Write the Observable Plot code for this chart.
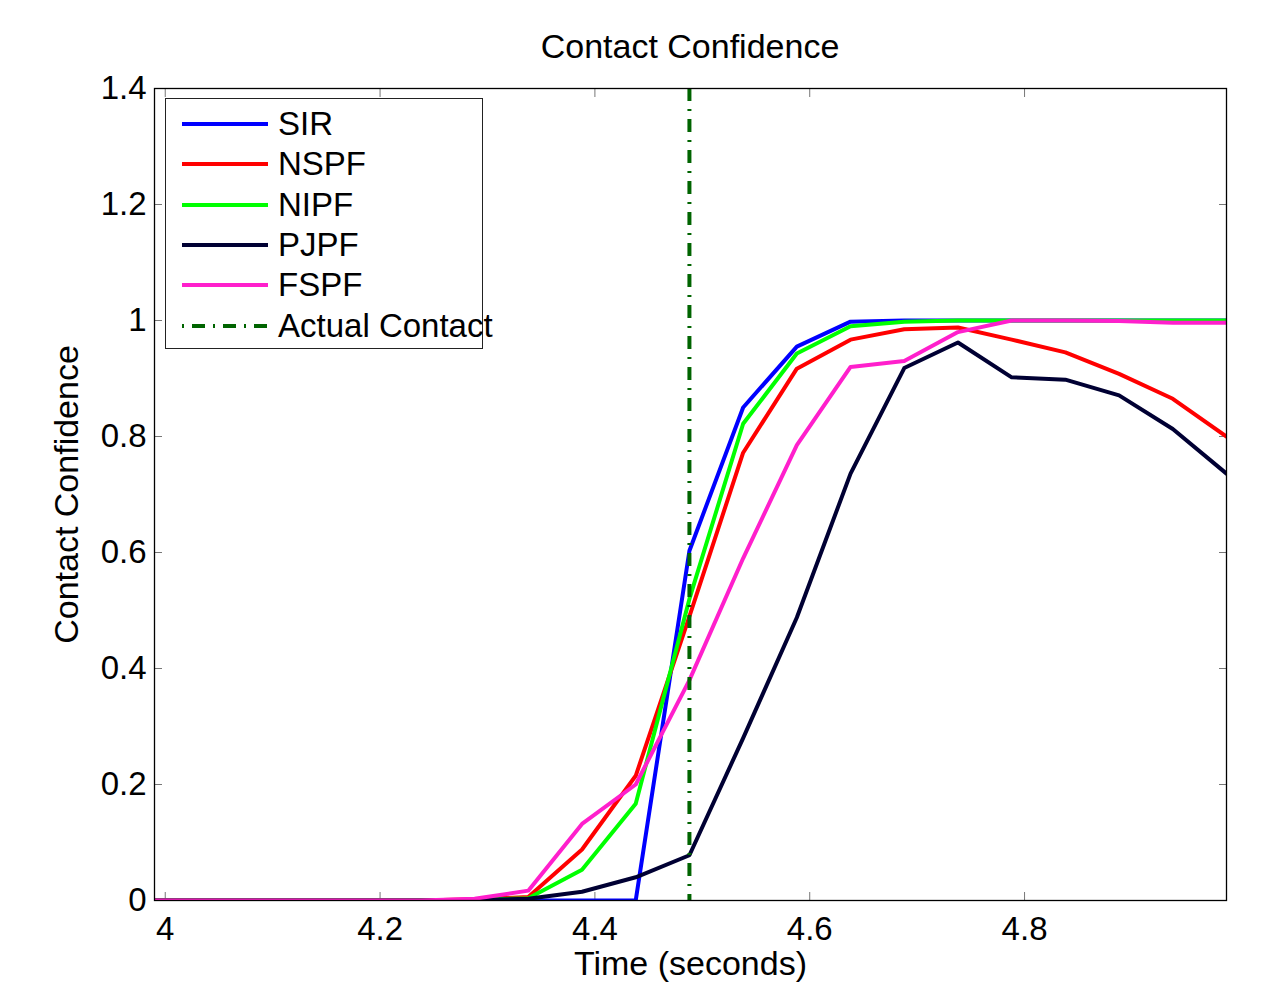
<!DOCTYPE html>
<html>
<head>
<meta charset="utf-8">
<script src="https://cdn.jsdelivr.net/npm/d3@7"></script>
<script src="https://cdn.jsdelivr.net/npm/@observablehq/plot@0.6"></script>
<style>
  html, body { margin: 0; padding: 0; background: #fff; }
  #wrap { position: relative; width: 1284px; height: 983px; font-family: "Liberation Sans", Arial, sans-serif; }
  #title { position: absolute; left: 440px; width: 500px; top: 27px; text-align: center; font-size: 34px; color: #000; }
  #legend { position: absolute; left: 165px; top: 98px; width: 316px; height: 249px; border: 1.5px solid #222; background: #fff; }
  .row { position: absolute; left: 16px; height: 40px; display: flex; align-items: center; font-size: 33px; color: #000; white-space: nowrap; }
  .row svg { margin-right: 10px; }
</style>
</head>
<body>
<div id="wrap">
  <div id="title">Contact Confidence</div>
  <div id="chart"></div>
  <div id="legend"></div>
</div>
<script>
// ---- data ----
const time = [3.988, 4.038, 4.088, 4.138, 4.188, 4.238, 4.288, 4.338, 4.388, 4.438, 4.488,
              4.538, 4.588, 4.638, 4.688, 4.738, 4.788, 4.838, 4.888, 4.938, 4.988];
const SIR  = [0, 0, 0, 0, 0, 0, 0, 0, 0, 0, 0.603, 0.85, 0.955, 0.998, 1, 1, 1, 1, 1, 1, 1];
const NSPF = [0, 0, 0, 0, 0, 0, 0.002, 0.006, 0.088, 0.215, 0.49, 0.772, 0.917, 0.967, 0.985, 0.988, 0.967, 0.945, 0.908, 0.865, 0.80];
const NIPF = [0, 0, 0, 0, 0, 0, 0.001, 0.004, 0.053, 0.167, 0.52, 0.822, 0.943, 0.99, 0.998, 1, 1, 1, 1, 1, 1];
const PJPF = [0, 0, 0, 0, 0, 0, 0.001, 0.003, 0.015, 0.04, 0.078, 0.28, 0.488, 0.736, 0.918, 0.962, 0.902, 0.898, 0.871, 0.813, 0.736];
const FSPF = [0, 0, 0, 0, 0, 0, 0.003, 0.017, 0.132, 0.2, 0.38, 0.59, 0.785, 0.92, 0.93, 0.98, 1.0, 1.0, 0.999, 0.996, 0.996];
const actualContact = 4.488;
const seriesNames = ["SIR", "NSPF", "NIPF", "PJPF", "FSPF"];
const seriesValues = [SIR, NSPF, NIPF, PJPF, FSPF];
const seriesColors = ["#0000ff", "#ff0000", "#00ff00", "#000033", "#ff1fcc"];
const contactColor = "#006400";
const xTicks = [4, 4.2, 4.4, 4.6, 4.8];
const yTicks = [0, 0.2, 0.4, 0.6, 0.8, 1, 1.2, 1.4];
const xDomain = [3.99, 4.988];
const yDomain = [0, 1.4];

// ---- build table ----
const rows = [];
seriesNames.forEach((name, i) => {
  time.forEach((t, j) => rows.push({series: name, time: t, value: seriesValues[i][j]}));
});

const font = 33;
const tickColor = "#777";
const dash = "13,8,2,8";
const blank = () => "";

const chart = Plot.plot({
  width: 1284,
  height: 983,
  marginLeft: 154,
  marginRight: 58,
  marginTop: 88,
  marginBottom: 83,
  style: {fontFamily: "'Liberation Sans', Arial, sans-serif", background: "#fff", color: "#000", overflow: "visible"},
  x: {domain: xDomain},
  y: {domain: yDomain},
  color: {domain: seriesNames, range: seriesColors},
  marks: [
    // tick labels
    Plot.axisX(xTicks, {tickSize: 0, tickPadding: 16, fontSize: font, tickFormat: d => String(d), label: null}),
    Plot.axisY(yTicks, {tickSize: 0, tickPadding: 8, fontSize: font, tickFormat: d => String(d), label: null}),
    // axis titles
    Plot.axisX(xTicks, {tickSize: 0, fontSize: 34, tickFormat: blank,
      label: "Time (seconds)", labelAnchor: "center", labelArrow: "none", labelOffset: 74}),
    Plot.axisY(yTicks, {tickSize: 0, fontSize: 34, tickFormat: blank,
      label: "Contact Confidence", labelAnchor: "center", labelArrow: "none", labelOffset: 101}),
    // inward ticks on all four sides
    Plot.axisX(xTicks, {anchor: "bottom", tickSize: -8, stroke: tickColor, tickFormat: blank, label: null}),
    Plot.axisX(xTicks, {anchor: "top", tickSize: -8, stroke: tickColor, tickFormat: blank, label: null}),
    Plot.axisY(yTicks, {anchor: "left", tickSize: -8, stroke: tickColor, tickFormat: blank, label: null}),
    Plot.axisY(yTicks, {anchor: "right", tickSize: -8, stroke: tickColor, tickFormat: blank, label: null}),
    Plot.line(rows, {x: "time", y: "value", z: "series", stroke: "series", strokeWidth: 4, clip: true}),
    Plot.ruleX([actualContact], {stroke: contactColor, strokeWidth: 4, strokeDasharray: dash}),
    Plot.frame({stroke: "#000", strokeWidth: 1.3})
  ]
});
document.getElementById("chart").appendChild(chart);

// ---- legend ----
const legend = document.getElementById("legend");
const legendItems = seriesNames.map((n, i) => ({label: n, color: seriesColors[i], dash: null}))
  .concat([{label: "Actual Contact", color: contactColor, dash: "2,8,13,8"}]);
legendItems.forEach((it, i) => {
  const row = document.createElement("div");
  row.className = "row";
  row.style.top = (5 + i * 40.3) + "px";
  row.innerHTML = `<svg width="86" height="10"><line x1="0" x2="86" y1="5" y2="5" stroke="${it.color}" stroke-width="4" ${it.dash ? `stroke-dasharray="${it.dash}"` : ""}/></svg><span>${it.label}</span>`;
  legend.appendChild(row);
});
</script>
</body>
</html>
